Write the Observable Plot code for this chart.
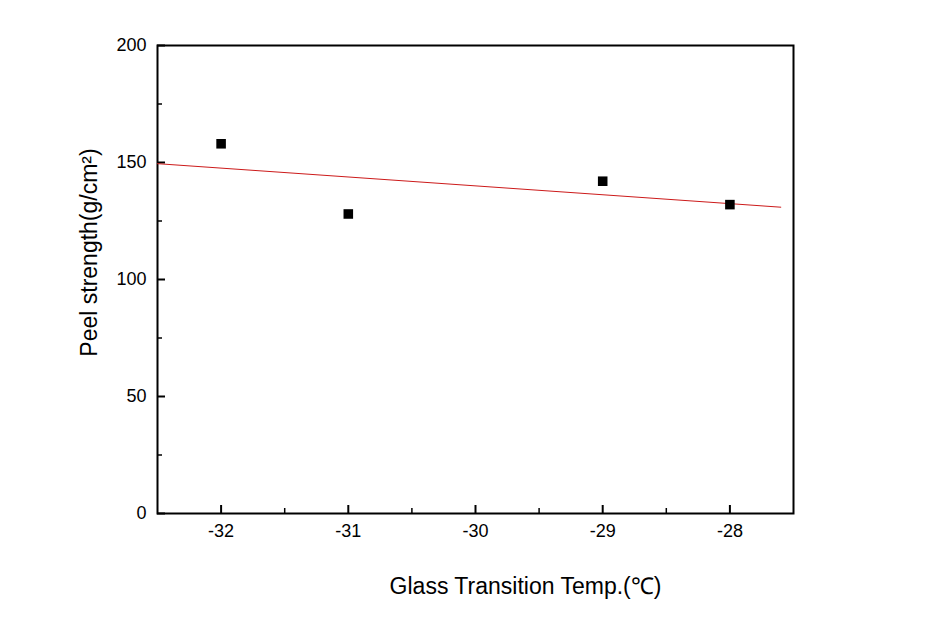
<!DOCTYPE html>
<html>
<head>
<meta charset="utf-8">
<script src="https://cdn.jsdelivr.net/npm/d3@7"></script>
<script src="https://cdn.jsdelivr.net/npm/@observablehq/plot@0.6"></script>
<style>
  html, body { margin: 0; padding: 0; background: #fff; }
  svg { font-family: "Liberation Sans", Arial, sans-serif; }
</style>
</head>
<body>
<div id="chart"></div>
<script>
// Data
const temps = [-32, -31, -29, -28];
const peel = [158, 128, 142, 132];
// Fitted line endpoints (as drawn in the reference)
const fitX = [-32.5, -27.6];
const fitY = [149.5, 130.9];
// Tick values
const xMajor = [-32, -31, -30, -29, -28];
const xMinor = [-31.5, -30.5, -29.5, -28.5];
const yMajor = [0, 50, 100, 150, 200];
const yMinor = [25, 75, 125, 175];
const xTitle = "Glass Transition Temp.(\u2103)";
const yTitle = "Peel strength(g/cm\u00b2)";

const points = temps.map((t, i) => ({t, p: peel[i]}));
const fit = fitX.map((x, i) => ({x, y: fitY[i]}));

const chart = Plot.plot({
  width: 925,
  height: 624,
  marginLeft: 157,
  marginRight: 132,
  marginTop: 45,
  marginBottom: 111,
  style: {fontFamily: "'Liberation Sans', Arial, sans-serif", fontSize: "18px", color: "#000", background: "#fff"},
  x: {domain: [-32.5, -27.5]},
  y: {domain: [0, 200]},
  marks: [
    // x axis: inward major ticks, minor ticks, labels
    Plot.axisX({ticks: xMajor, tickSize: -8, text: null, strokeWidth: 2, label: null}),
    Plot.axisX({ticks: xMinor, tickSize: -5, text: null, strokeWidth: 1.5, label: null}),
    Plot.axisX({ticks: xMajor, tickSize: 0, tickPadding: 11, fontSize: 18, label: null, tickFormat: d => String(d).replace("\u2212", "-")}),
    // y axis
    Plot.axisY({ticks: yMajor, tickSize: -8, text: null, strokeWidth: 2, label: null}),
    Plot.axisY({ticks: yMinor, tickSize: -5, text: null, strokeWidth: 1.5, label: null}),
    Plot.axisY({ticks: yMajor, tickSize: 0, tickPadding: 11, fontSize: 18, label: null}),
    Plot.frame({stroke: "#000", strokeWidth: 2}),
    Plot.line(fit, {x: "x", y: "y", stroke: "#cc1a1a", strokeWidth: 1}),
    Plot.dot(points, {x: "t", y: "p", symbol: "square", r: 5.4, fill: "#000", stroke: "none"}),
    Plot.text([xTitle], {frameAnchor: "bottom", textAnchor: "middle", lineAnchor: "top", dx: 50, dy: 64, fontSize: 23, text: d => d, fill: "#000"}),
    Plot.text([yTitle], {frameAnchor: "left", textAnchor: "middle", lineAnchor: "middle", dx: -68, dy: -27, rotate: -90, fontSize: 23, text: d => d, fill: "#000"})
  ]
});
document.getElementById("chart").appendChild(chart);
</script>
</body>
</html>
